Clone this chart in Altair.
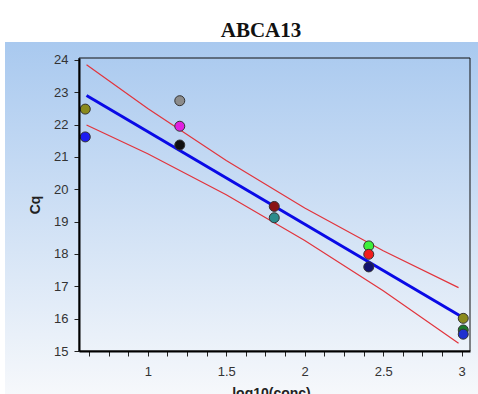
import altair as alt
import pandas as pd

# ---- data ----
pt_x = [0.602, 0.602, 1.204, 1.204, 1.204, 1.806, 1.806, 2.408, 2.408, 2.408, 3.01, 3.01, 3.01]
pt_y = [22.48, 21.62, 22.74, 21.95, 21.37, 19.47, 19.12, 18.25, 17.99, 17.60, 16.01, 15.65, 15.52]
pt_color = ["#8a8a1c", "#1c1cf0", "#8c8c8c", "#e020e0", "#101010", "#8a1414",
            "#2a8c8c", "#3cf03c", "#f01c1c", "#12126e", "#8a8a1c", "#1a7a2a", "#2030d0"]

fit_x = [0.61, 3.00]
fit_y = [22.90, 16.06]

band_x = [0.61, 1.0, 1.5, 2.0, 2.5, 2.98]
band_upper = [23.85, 22.50, 20.89, 19.42, 18.10, 16.96]
band_lower = [21.99, 21.10, 19.83, 18.42, 16.86, 15.24]

x_ticks = [0.625 + 0.125 * i for i in range(20)]
y_ticks = list(range(15, 25))

chart_title = "ABCA13"
x_title = "log10(conc)"
y_title = "Cq"

W, H = 391, 293

points = pd.DataFrame({"x": pt_x, "y": pt_y, "c": pt_color})
fit = pd.DataFrame({"x": fit_x, "y": fit_y})
bands = pd.concat([
    pd.DataFrame({"x": band_x, "y": band_upper, "s": "upper"}),
    pd.DataFrame({"x": band_x, "y": band_lower, "s": "lower"}),
])

xscale = alt.Scale(domain=[0.562, 3.053], nice=False, zero=False)
yscale = alt.Scale(domain=[15, 24.06], nice=False, zero=False)

xaxis = alt.Axis(values=x_ticks,
                 labelExpr="datum.value % 0.5 == 0 ? format(datum.value, '~g') : ''",
                 title=x_title, titleY=35, titleBaseline="top", titleX=192, zindex=2,
                 labelOverlap=False, tickCount=40, labelPadding=9)
yaxis = alt.Axis(values=y_ticks, format="d", title=y_title, titleX=-44,
                 titleBaseline="middle", zindex=2, labelOverlap=False, tickCount=40)

one = pd.DataFrame({"a": [0]})
bg = alt.Chart(one).mark_rect(
    fill={"gradient": "linear", "x1": 0, "y1": 0, "x2": 0, "y2": 1,
          "stops": [{"offset": 0, "color": "#a9c9ef"}, {"offset": 1, "color": "#f6f8fb"}]}
).encode(x=alt.value(-74), x2=alt.value(W + 8), y=alt.value(-16), y2=alt.value(H + 43))

band_lines = alt.Chart(bands).mark_line(color="#e2343c", strokeWidth=1.2).encode(
    x=alt.X("x:Q", scale=xscale, axis=xaxis),
    y=alt.Y("y:Q", scale=yscale, axis=yaxis),
    detail="s:N",
)
fit_line = alt.Chart(fit).mark_line(color="#0a0ae6", strokeWidth=3).encode(
    x=alt.X("x:Q", scale=xscale), y=alt.Y("y:Q", scale=yscale)
)
pts = alt.Chart(points).mark_point(filled=True, size=100, stroke="#333333",
                                    strokeWidth=1, opacity=1).encode(
    x=alt.X("x:Q", scale=xscale), y=alt.Y("y:Q", scale=yscale),
    fill=alt.Fill("c:N", scale=None),
)
frame = alt.Chart(one).mark_rect(fill="transparent", stroke="#111111", strokeWidth=1).encode(
    x=alt.value(0), x2=alt.value(W), y=alt.value(0), y2=alt.value(H)
)
title_txt = alt.Chart(one).mark_text(
    text=chart_title, font="Liberation Serif", fontSize=21, fontWeight="bold",
    color="#111111", align="center", baseline="alphabetic"
).encode(x=alt.value(182), y=alt.value(-21))

chart = alt.layer(bg, band_lines, fit_line, pts, frame, title_txt).properties(
    width=W, height=H,
    autosize=alt.AutoSizeParams(type="none"),
    padding={"left": 79, "top": 58, "right": 8, "bottom": 43},
).configure(background="white").configure_view(stroke=None).configure_axis(
    grid=False, domainColor="#000000", domainWidth=2, tickColor="#222222",
    tickSize=5, labelFont="Liberation Sans", labelFontSize=13, labelColor="#333333",
    titleFont="Liberation Sans", titleFontSize=14, titleFontWeight="bold", titleColor="#222222",
    labelPadding=6,
)

chart.save("out.html", embed_options={"renderer": "svg", "actions": False})
